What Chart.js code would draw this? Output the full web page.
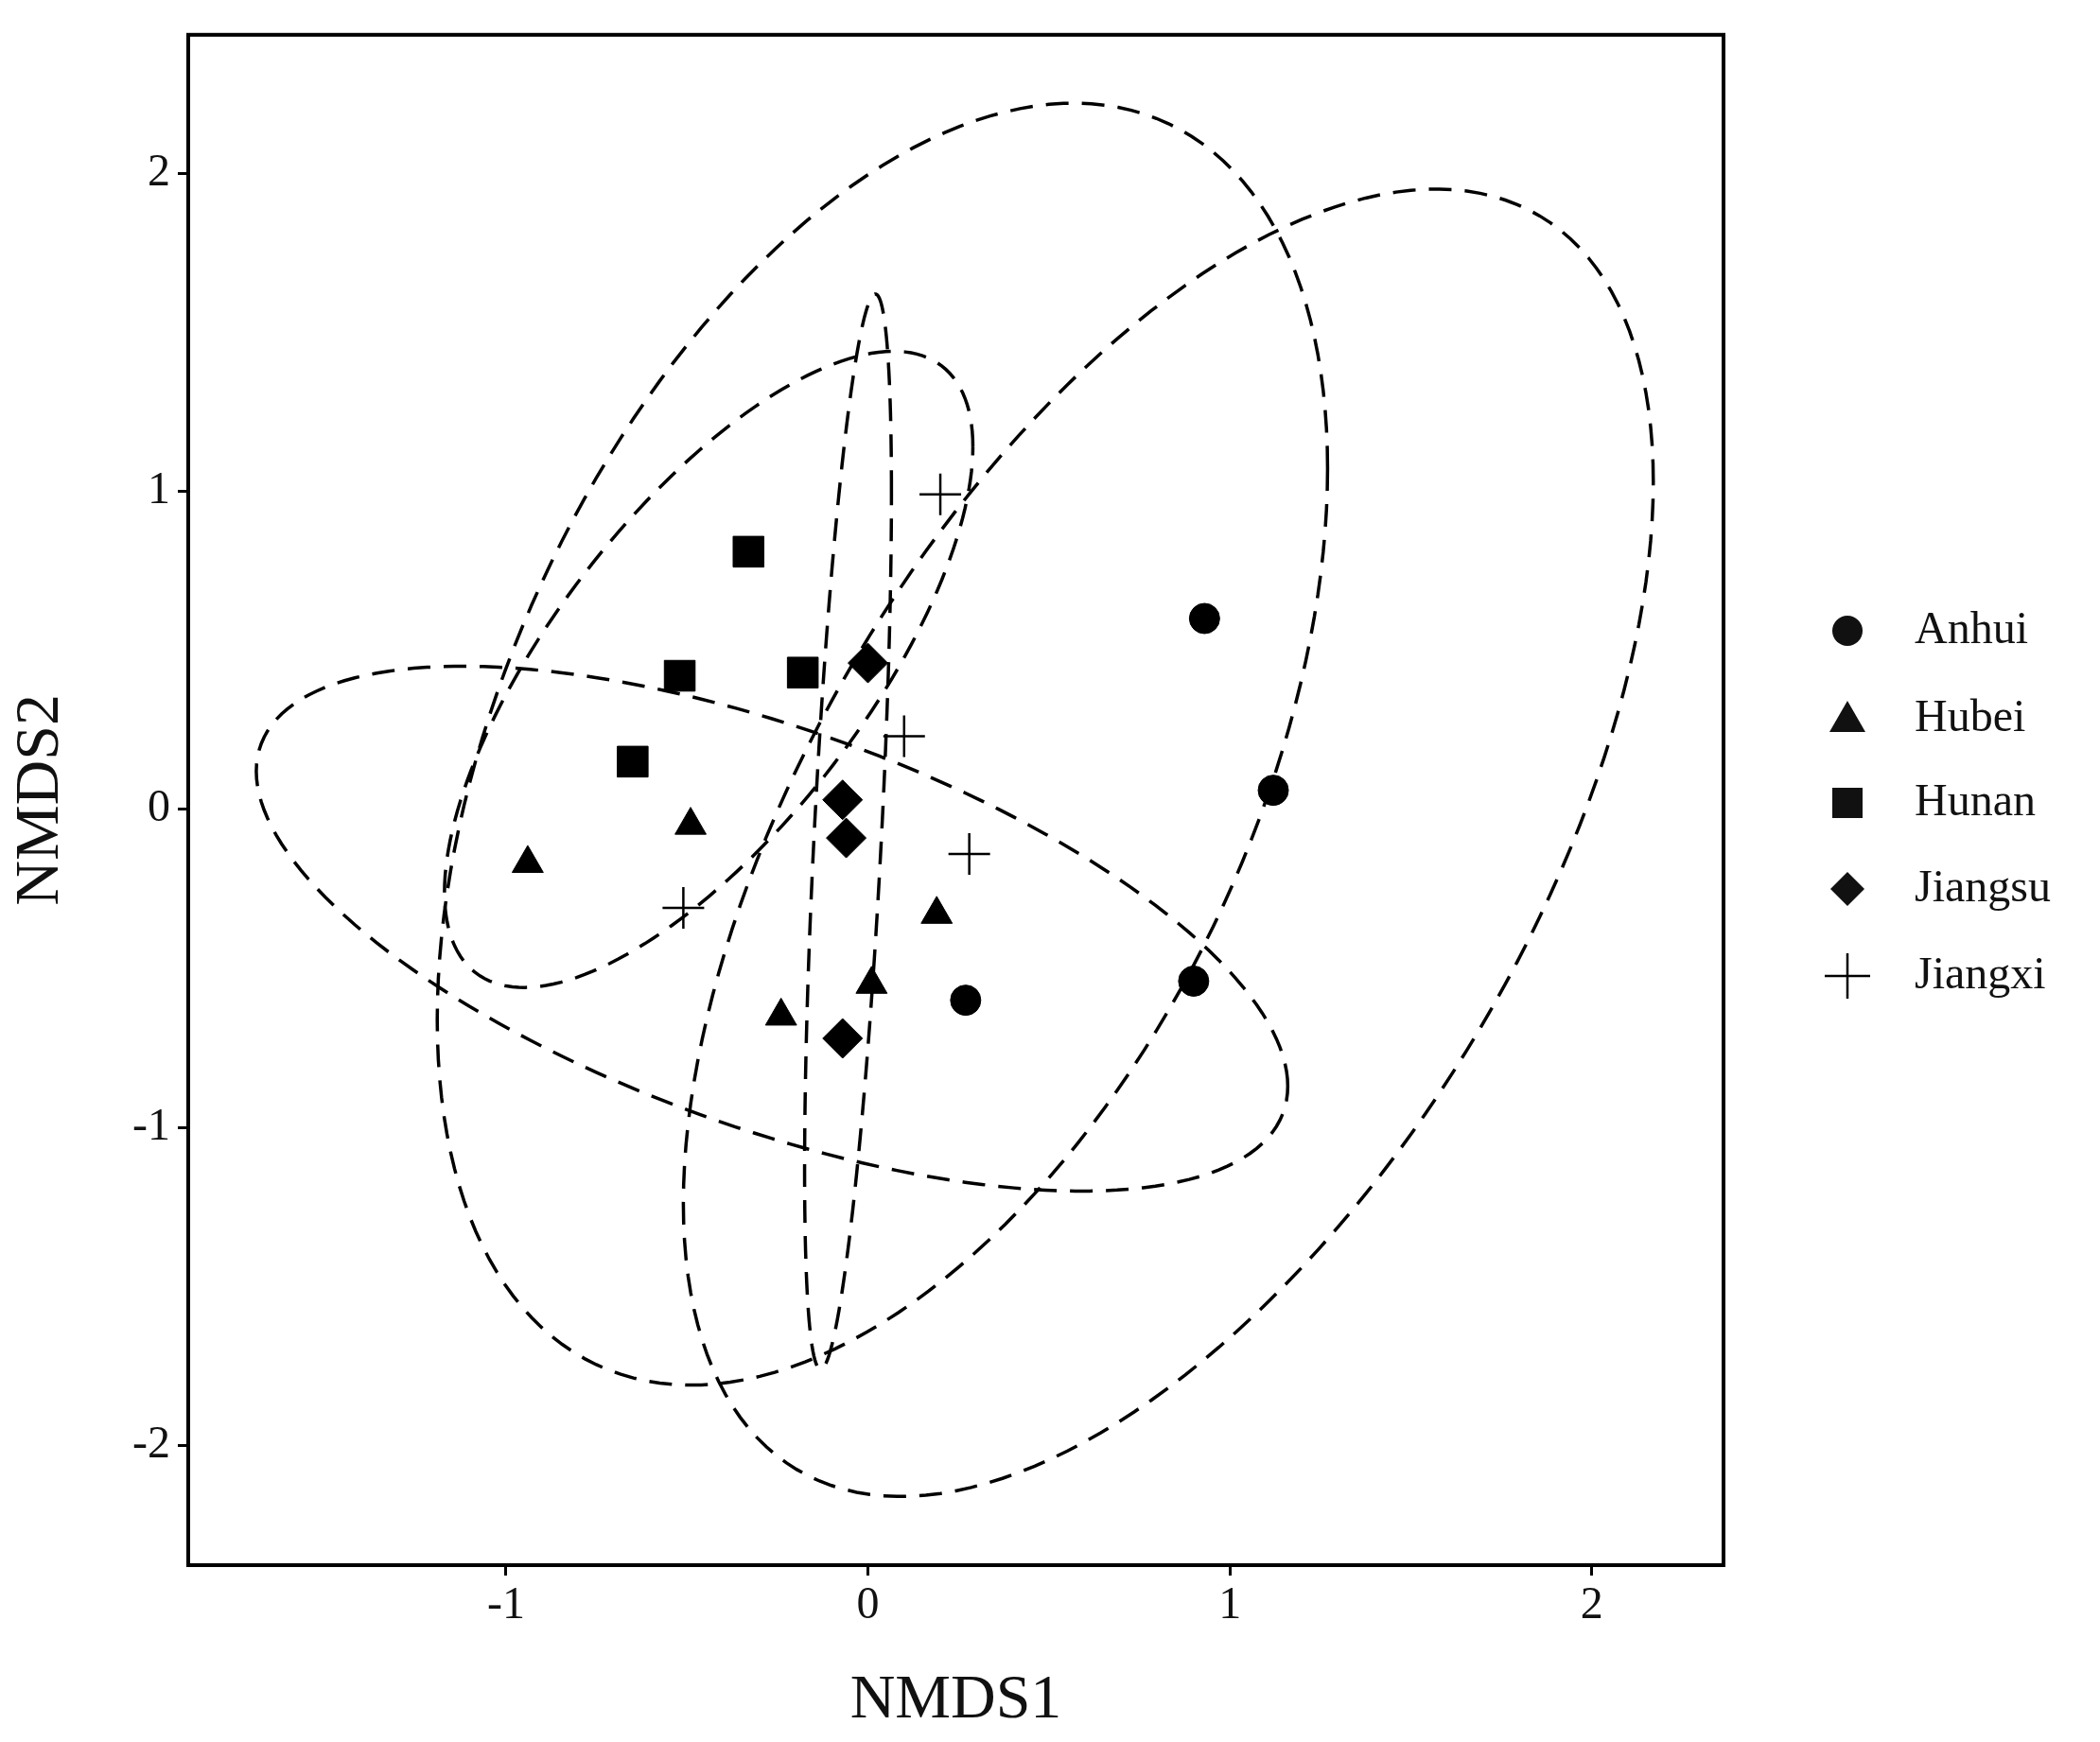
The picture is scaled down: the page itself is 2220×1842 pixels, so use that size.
<!DOCTYPE html>
<html><head><meta charset="utf-8">
<script src="https://cdn.jsdelivr.net/npm/chart.js@4"></script>
<style>html,body{margin:0;padding:0;background:#fff}</style>
</head><body>
<canvas id="c" width="2220" height="1842"></canvas>
<script>
const groups = ["Anhui","Hubei","Hunan","Jiangsu","Jiangxi"];
const pointStyles = ["circle","triangle","rect","rectRot","cross"];
const anhuiX = [0.93, 1.12, 0.90, 0.27];
const anhuiY = [0.60, 0.06, -0.54, -0.60];
const hubeiX = [-0.94, -0.49, 0.19, 0.01, -0.24];
const hubeiY = [-0.17, -0.05, -0.33, -0.55, -0.65];
const hunanX = [-0.33, -0.52, -0.18, -0.65];
const hunanY = [0.81, 0.42, 0.43, 0.15];
const jiangsuX = [0.00, -0.07, -0.06, -0.07];
const jiangsuY = [0.46, 0.03, -0.09, -0.72];
const jiangxiX = [0.20, 0.10, 0.28, -0.51];
const jiangxiY = [0.99, 0.23, -0.14, -0.31];
// ellipse parameters per group: centre, spread, correlation
const ellCX = [0.83, 0.04, -0.44, -0.055, -0.265];
const ellCY = [-0.105, 0.205, 0.44, -0.07, -0.375];
const ellSX = [1.34, 1.23, 0.73, 0.12, 1.425];
const ellSY = [2.055, 2.015, 1.00, 1.69, 0.825];
const ellR  = [0.552, 0.43, 0.70, 0.63, -0.60];
const xTicks = [-1, 0, 1, 2];
const yTicks = [-2, -1, 0, 1, 2];

const xs=[anhuiX,hubeiX,hunanX,jiangsuX,jiangxiX], ys=[anhuiY,hubeiY,hunanY,jiangsuY,jiangxiY];
const radii=[16,19,23,21,22];
const datasets=[];
for(let g=0;g<5;g++){
  const pts=[];
  for(let i=0;i<=180;i++){const t=i/180*2*Math.PI;
    pts.push({x:ellCX[g]+ellSX[g]*Math.cos(t), y:ellCY[g]+ellSY[g]*(ellR[g]*Math.cos(t)+Math.sqrt(1-ellR[g]*ellR[g])*Math.sin(t))});}
  datasets.push({type:'line',data:pts,showLine:true,pointRadius:0,borderColor:'#000',borderWidth:3.5,borderDash:[24,14],fill:false,tension:0,order:2});
}
for(let g=0;g<5;g++){
  const cross=pointStyles[g]==='cross';
  datasets.push({type:'scatter',data:xs[g].map((x,i)=>({x,y:ys[g][i]})),pointStyle:pointStyles[g],
    pointRadius:radii[g],backgroundColor:'#000',borderColor:'#000',borderWidth:cross?2.5:1,order:1});
}
const font='"Liberation Serif", "DejaVu Serif", serif';
const frame={id:'frame',afterDraw(ch){const c=ch.ctx,a=ch.chartArea;c.save();c.strokeStyle='#000';c.lineWidth=4;c.strokeRect(a.left,a.top,a.right-a.left,a.bottom-a.top);
  const ly=[667,760,849,940,1032];
  c.font='48px '+font;c.fillStyle='#111';c.textBaseline='middle';
  for(let g=0;g<5;g++){const x=1953,y=ly[g];c.beginPath();
    const s=pointStyles[g];
    if(s==='circle'){c.arc(x,y,16,0,2*Math.PI);c.fill();}
    else if(s==='triangle'){c.moveTo(x,y-19);c.lineTo(x+19,y+14);c.lineTo(x-19,y+14);c.closePath();c.fill();}
    else if(s==='rect'){c.fillRect(x-16,y-16,32,32);}
    else if(s==='rectRot'){c.moveTo(x,y-18);c.lineTo(x+18,y);c.lineTo(x,y+18);c.lineTo(x-18,y);c.closePath();c.fill();}
    else {c.lineWidth=2.5;c.moveTo(x-24,y);c.lineTo(x+24,y);c.moveTo(x,y-24);c.lineTo(x,y+24);c.stroke();}
    c.fillText(groups[g],2024,y);}
  c.restore();}};
new Chart(document.getElementById('c'),{
  data:{datasets},
  options:{responsive:false,devicePixelRatio:1,animation:false,
    layout:{padding:{top:36,right:398,left:0,bottom:0}},
    plugins:{legend:{display:false},tooltip:{enabled:false}},
    scales:{
      x:{type:'linear',min:-1.878,max:2.364,afterBuildTicks:s=>{s.ticks=xTicks.map(v=>({value:v}));},
        afterFit:s=>{s.height=187;},
        grid:{drawOnChartArea:false,drawTicks:true,tickLength:11,color:'#000',lineWidth:3},border:{display:false},
        ticks:{font:{family:font,size:48},color:'#111',padding:4,callback:v=>String(v)},
        title:{display:true,text:'NMDS1',font:{family:font,size:66},color:'#111',padding:{top:0}}},
      y:{type:'linear',min:-2.376,max:2.435,afterBuildTicks:s=>{s.ticks=yTicks.map(v=>({value:v}));},
        afterFit:s=>{s.width=199;},
        grid:{drawOnChartArea:false,drawTicks:true,tickLength:11,color:'#000',lineWidth:3},border:{display:false},
        ticks:{font:{family:font,size:48},color:'#111',padding:8,callback:v=>String(v)},
        title:{display:true,text:'NMDS2',font:{family:font,size:66},color:'#111',padding:{bottom:6}}}
    }},
  plugins:[frame]});
</script></body></html>
